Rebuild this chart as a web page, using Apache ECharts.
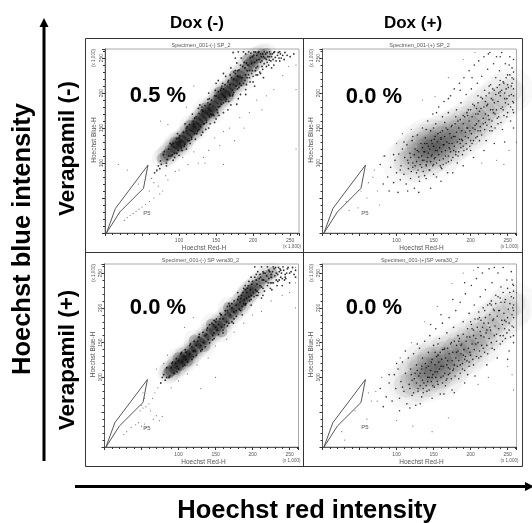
<!DOCTYPE html>
<html><head><meta charset="utf-8">
<script src="https://cdn.jsdelivr.net/npm/echarts@6/dist/echarts.min.js"></script>
<style>html,body{margin:0;padding:0;background:#fff}#c{width:532px;height:523px}</style></head>
<body><div id="c"></div>
<script>
const gate = [[2,0],[14,35],[58,97],[52,64],[20,30],[2,0]];
const columnTitles = ["Dox (-)", "Dox (+)"];
const rowTitles = ["Verapamil (-)", "Verapamil (+)"];
const panelTitles = ["Specimen_001-(-) SP_2", "Specimen_001-(+) SP_2", "Specimen_001-(-) SP vera30_2", "Specimen_001-(+)SP vera30_2"];
const percents = ["0.5 %", "0.0 %", "0.0 %", "0.0 %"];

const core1 = [[78,106],[82,110],[85,113],[88,118],[91,117],[93,123],[96,122],[98,128],[100,126],[102,132],[105,131],[107,137],[109,136],[111,142],[113,140],[116,147],[118,146],[120,152],[122,151],[124,158],[126,156],[128,163],[130,161],[132,168],[134,165],[136,172],[138,170],[140,176],[143,175],[145,182],[147,180],[150,188],[152,186],[154,193],[156,191],[158,198],[161,197],[163,203],[165,201],[168,208],[170,206],[172,213],[175,212],[177,218],[180,217],[183,224],[186,228],[190,234],[194,240],[198,245],[203,250],[95,129],[104,125],[115,153],[125,149],[135,178],[146,172],[155,201],[166,195],[176,225],[185,218],[193,248],[201,238],[207,252],[212,255],[218,256]];
const body1 = [[72,96],[75,103],[76,98],[80,116],[84,105],[86,120],[89,110],[92,128],[94,114],[97,135],[99,118],[101,139],[103,122],[106,144],[108,127],[110,150],[112,132],[114,155],[117,137],[119,160],[121,142],[123,166],[125,146],[127,171],[129,152],[131,176],[133,156],[135,182],[137,161],[139,186],[141,166],[144,190],[146,170],[148,196],[151,176],[153,202],[155,181],[157,207],[160,186],[162,212],[164,191],[167,218],[169,196],[171,222],[174,201],[176,228],[179,206],[181,233],[184,211],[186,238],[189,218],[191,243],[194,226],[196,250],[199,232],[201,254],[204,236],[207,258],[210,244],[213,256],[216,250],[219,258],[222,247],[226,256],[230,251],[234,258],[170,236],[178,243],[184,250],[190,256],[160,228],[150,214],[140,200],[128,183],[118,170],[108,156],[98,142],[88,128],[130,140],[140,150],[150,163],[160,172],[170,183],[180,192],[190,205],[200,216],[210,228],[218,238],[228,240],[238,250],[173,258],[180,259],[187,259],[194,259],[201,259],[208,259],[215,259],[222,259],[229,259],[236,259],[176,250],[192,232],[205,247],[212,238],[222,252],[160,206],[167,188],[174,230],[148,158],[136,148],[122,134],[110,120],[100,111],[92,104],[83,96],[115,128],[126,178],[139,191],[153,218],[163,224],[197,257],[203,259],[211,252],[219,244],[183,198],[195,222],[206,226]];
const fill1 = [[166,216],[169,226],[172,204],[174,220],[177,210],[179,232],[181,208],[183,240],[185,222],[187,214],[188,244],[190,226],[191,212],[193,240],[195,232],[196,216],[198,242],[199,252],[200,224],[202,244],[203,232],[205,254],[206,238],[208,248],[209,230],[210,256],[212,246],[213,234],[214,252],[215,242],[217,256],[218,248],[220,252],[221,240],[223,256],[224,246],[225,252],[227,248],[228,258],[231,246],[233,254],[235,250],[237,256],[240,254],[243,258],[246,254],[176,232],[168,198],[158,210],[152,172],[144,168],[134,156],[124,142],[114,132],[104,118],[94,108],[86,110],[90,126],[100,136],[110,146],[120,156],[132,174],[142,184],[150,196],[156,204],[162,194],[172,196],[182,214],[192,222],[198,228],[204,226],[157,184],[147,168],[137,158],[127,148],[117,134],[107,124],[97,114],[149,204],[159,214],[169,212],[179,224],[189,236],[141,192],[131,180],[121,164],[111,152],[101,130],[91,112],[143,170],[153,180],[163,188],[173,198],[83,100],[79,112],[74,92],[70,90],[67,86],[225,236],[236,246],[242,248],[250,252],[255,256],[214,222],[202,210],[190,198],[178,184],[166,176],[154,168],[142,156],[132,144]];
const stray1 = [[18,98],[30,90],[45,70],[60,60],[63,78],[66,72],[70,88],[72,67],[78,60],[82,82],[85,76],[95,88],[105,108],[112,98],[120,116],[126,100],[133,108],[140,118],[148,136],[155,125],[160,145],[168,150],[175,132],[182,165],[188,150],[195,172],[205,190],[212,176],[218,196],[228,205],[240,225],[248,238],[258,240],[258,205],[258,120],[160,98],[135,100],[90,200],[85,155],[75,160],[110,180],[120,210],[100,90],[30,22],[34,25],[38,28],[42,31],[46,34],[50,37],[26,18],[60,45],[66,50],[74,56],[55,41]];

const core2 = [[112,100],[120,106],[126,112],[132,104],[136,118],[140,112],[144,124],[148,118],[150,130],[154,124],[158,136],[162,128],[165,120],[168,140],[172,132],[176,144],[180,136],[185,148],[190,142],[195,156],[200,150],[206,165],[212,158],[218,172],[224,178],[234,186],[244,196],[254,204],[130,124],[142,132],[156,112]];
const body2 = [[88,80],[92,94],[96,72],[98,104],[100,86],[103,113],[105,76],[106,96],[108,120],[110,84],[111,108],[113,70],[114,126],[116,92],[118,114],[119,78],[121,132],[122,100],[124,64],[125,120],[127,86],[128,140],[130,108],[131,74],[133,128],[134,94],[135,150],[137,116],[138,82],[139,136],[141,102],[142,160],[143,124],[145,90],[146,146],[147,110],[149,170],[150,98],[151,134],[153,156],[154,80],[155,118],[157,180],[158,104],[159,144],[161,92],[162,166],[163,126],[164,188],[166,110],[167,150],[169,86],[170,172],[171,128],[173,196],[174,104],[175,154],[177,118],[178,206],[179,138],[181,176],[182,100],[183,160],[185,214],[186,128],[187,186],[189,112],[190,168],[191,222],[193,138],[194,198],[195,120],[197,176],[198,232],[199,146],[201,206],[202,128],[203,184],[205,240],[206,154],[207,136],[209,214],[210,170],[211,246],[213,146],[214,194],[215,224],[217,156],[218,252],[219,204],[221,132],[222,182],[223,234],[225,162],[226,258],[227,212],[229,146],[230,190],[231,242],[233,170],[234,222],[235,252],[237,156],[238,200],[239,232],[241,178],[242,258],[243,148],[245,214],[246,192],[247,242],[249,166],[250,226],[251,184],[253,252],[254,160],[255,210],[256,236],[257,176],[258,196],[258,220],[258,150],[258,248],[246,130],[232,128],[218,118],[204,108],[190,96],[176,86],[160,74],[146,64],[130,58],[115,60],[120,88],[135,104],[148,128],[160,136],[172,120],[184,116],[196,168],[208,178],[220,188],[232,204],[244,176],[256,222],[105,90],[115,104],[125,96],[140,98],[150,150],[165,158],[180,166],[195,150],[210,196],[225,210],[240,218],[128,118],[138,128],[152,108],[163,98],[174,136],[188,134],[200,118],[212,132],[228,152],[248,206],[252,240],[240,252],[224,256],[236,164],[202,222],[186,204],[170,192],[154,172],[140,148],[122,138],[110,130],[96,112],[82,70],[90,60],[102,58],[78,98],[84,110]];
const fill2 = [[116,100],[119,108],[122,94],[124,112],[127,102],[129,90],[130,116],[132,98],[134,110],[135,122],[136,88],[137,104],[138,116],[140,96],[141,128],[142,108],[143,114],[144,90],[145,120],[146,102],[147,132],[148,112],[149,96],[150,124],[151,106],[152,138],[153,118],[154,100],[155,130],[156,142],[157,112],[158,122],[159,96],[160,134],[161,116],[162,146],[163,106],[164,126],[165,138],[166,118],[167,100],[168,130],[169,148],[170,110],[171,122],[172,142],[173,116],[174,152],[175,128],[176,108],[177,138],[178,124],[179,156],[180,116],[181,144],[182,130],[183,110],[184,150],[185,134],[186,162],[187,122],[188,146],[189,132],[190,156],[191,118],[192,166],[193,144],[194,128],[195,172],[196,150],[197,136],[198,160],[199,124],[200,176],[201,142],[202,166],[203,150],[204,132],[205,182],[206,148],[207,170],[208,156],[209,138],[210,186],[211,160],[212,174],[213,152],[214,178],[215,140],[216,192],[217,164],[218,180],[219,148],[220,170],[221,196],[222,154],[223,184],[224,168],[225,200],[226,146],[227,176],[228,192],[229,160],[230,206],[231,172],[232,186],[233,150],[234,198],[235,176],[236,208],[237,188],[238,166],[239,212],[240,196],[241,158],[242,204],[243,180],[244,216],[245,168],[246,200],[247,186],[248,222],[249,192],[250,172],[251,208],[252,196],[253,226],[254,180],[255,198],[256,214],[257,188],[258,206],[258,230],[258,172],[258,186],[250,212],[240,202],[230,176],[220,158],[210,146],[200,132],[190,124],[180,112],[170,102],[160,94],[150,84],[140,78],[130,80]];
const stray2 = [[32,45],[36,32],[52,60],[60,50],[68,80],[74,60],[77,40],[82,110],[70,90],[48,36],[62,72],[152,195],[135,190],[252,118],[245,98],[262,130],[235,104],[120,148],[108,142],[100,128],[170,222],[190,248],[206,258],[215,100]];

const core3 = [[86,106],[88,108],[90,110],[93,115],[96,112],[98,116],[99,120],[102,118],[104,126],[107,124],[108,128],[110,132],[113,130],[116,138],[118,134],[119,136],[122,144],[125,142],[128,150],[131,148],[134,157],[137,155],[140,163],[143,161],[146,169],[149,167],[152,175],[155,173],[158,181],[161,179],[164,187],[167,185],[170,194],[173,192],[176,200],[179,198],[182,206],[184,204],[186,210],[188,212],[190,216],[192,218],[194,222],[197,224],[199,226],[202,229],[204,232],[209,236],[214,242],[220,246],[226,250],[100,128],[112,124],[122,153],[135,145],[145,176],[158,166],[168,200]];
const body3 = [[76,92],[78,100],[80,104],[82,96],[84,114],[88,102],[91,120],[94,106],[97,127],[100,112],[103,134],[106,116],[109,140],[112,122],[115,146],[118,126],[121,152],[124,132],[127,158],[130,138],[133,165],[136,144],[139,171],[142,150],[145,178],[148,156],[151,184],[154,162],[157,190],[160,168],[163,196],[166,174],[169,203],[172,180],[175,210],[178,188],[181,216],[184,196],[187,222],[190,204],[193,228],[196,210],[199,234],[202,216],[205,240],[208,222],[211,244],[214,228],[217,250],[220,232],[223,252],[226,236],[229,256],[232,240],[235,258],[238,244],[241,259],[244,248],[247,256],[250,250],[254,258],[258,254],[203,259],[212,259],[220,259],[228,259],[236,252],[243,240],[250,236],[258,244],[190,226],[180,212],[168,206],[156,192],[142,176],[128,162],[116,148],[104,136],[92,122],[120,130],[132,140],[146,154],[160,164],[174,178],[186,190],[198,204],[212,214],[226,226],[240,232],[195,238],[205,248],[215,240],[225,248],[232,250],[210,232],[185,218],[172,200],[150,172],[136,160],[124,146],[110,126],[98,116],[87,100],[150,180],[163,190],[178,204],[192,214],[206,224],[222,242],[238,254]];
const fill3 = [[182,198],[184,214],[186,202],[188,228],[189,212],[191,206],[192,222],[194,232],[195,216],[197,226],[198,212],[200,238],[201,222],[203,244],[204,226],[206,234],[207,218],[209,242],[210,248],[212,230],[213,240],[215,250],[216,224],[218,238],[219,246],[221,236],[222,254],[224,228],[225,244],[227,252],[228,236],[230,246],[231,258],[233,232],[234,248],[236,240],[237,256],[239,250],[240,242],[242,254],[245,242],[246,250],[248,258],[252,252],[256,248],[172,206],[166,196],[160,184],[154,176],[148,164],[140,154],[130,146],[120,138],[108,130],[96,120],[105,122],[115,134],[126,152],[138,162],[147,176],[156,184],[165,180],[175,194],[183,208],[175,184],[168,178],[158,172],[146,160],[134,150],[122,138],[110,136],[100,124],[90,114],[84,100],[152,168],[162,176],[170,190],[178,196],[188,206],[198,218],[205,218],[214,218],[224,236],[234,238],[244,244],[128,158],[138,168],[148,182],[158,190],[118,144],[108,118],[98,108],[214,252],[207,252],[198,244],[190,232],[180,222],[166,202]];
const stray3 = [[72,85],[68,78],[65,70],[60,62],[56,58],[52,56],[48,52],[52,78],[54,70],[50,60],[42,32],[46,35],[50,30],[54,33],[56,28],[36,28],[30,22],[26,18],[66,40],[70,45],[74,38],[78,44],[62,52],[90,85],[100,95],[112,105],[125,118],[140,128],[150,145],[165,155],[175,165],[188,178],[200,190],[212,195],[225,210],[240,218],[258,236],[258,258],[258,200],[250,222],[130,84],[150,100],[120,186],[108,172],[85,132],[70,112],[80,120]];

const core4 = [[112,88],[120,92],[128,98],[134,104],[138,96],[142,112],[146,104],[150,120],[154,112],[158,128],[162,118],[166,108],[170,130],[174,122],[178,140],[182,132],[186,126],[190,146],[195,138],[200,152],[206,146],[212,162],[218,154],[224,172],[232,178],[240,186],[250,196],[258,206],[132,116],[144,126],[158,100]];
const body4 = [[86,72],[90,92],[94,66],[97,104],[99,84],[102,112],[104,70],[106,94],[108,122],[110,80],[112,106],[114,62],[116,128],[117,90],[119,112],[121,74],[123,134],[124,98],[126,60],[127,118],[129,84],[131,142],[132,106],[134,72],[135,128],[137,92],[138,152],[140,114],[141,80],[143,136],[144,100],[145,160],[147,122],[149,88],[150,146],[152,108],[153,170],[155,94],[156,132],[158,156],[159,76],[160,116],[162,178],[163,102],[165,142],[166,88],[168,164],[169,124],[171,186],[172,106],[174,150],[175,82],[177,172],[178,118],[180,196],[181,136],[183,160],[184,98],[186,208],[187,146],[189,112],[190,180],[192,126],[193,220],[195,158],[196,104],[198,192],[199,136],[201,232],[202,170],[204,118],[205,204],[207,148],[208,242],[210,184],[211,128],[213,216],[214,160],[216,250],[217,142],[219,196],[220,226],[222,168],[223,134],[225,256],[226,206],[228,150],[229,236],[231,184],[232,140],[234,218],[235,162],[237,250],[238,196],[240,148],[241,230],[243,176],[244,258],[246,208],[247,156],[249,240],[250,186],[252,168],[253,222],[255,252],[256,174],[257,200],[258,150],[258,232],[258,186],[258,214],[258,160],[120,104],[134,116],[148,100],[162,140],[176,110],[190,132],[204,160],[218,178],[232,196],[246,182],[256,240],[108,86],[128,110],[142,94],[156,148],[170,114],[184,152],[198,122],[212,186],[226,172],[240,214],[252,138],[164,76],[148,70],[132,62],[118,56],[104,52],[78,84],[82,58],[90,104],[100,120],[112,138],[128,148],[146,176],[160,190],[176,212],[192,236],[210,258],[232,258],[222,118],[236,128],[250,126],[206,102],[192,92],[178,78],[136,84],[152,136],[168,98],[186,118],[200,180],[214,130],[228,204],[244,160]];
const fill4 = [[118,84],[121,96],[123,78],[125,106],[127,92],[129,80],[130,102],[132,88],[134,112],[135,96],[136,78],[138,106],[139,120],[140,88],[142,100],[143,116],[144,82],[146,110],[147,94],[148,126],[149,104],[151,86],[152,118],[153,100],[154,130],[155,108],[156,90],[157,122],[158,112],[159,136],[160,100],[161,126],[162,92],[163,116],[164,140],[165,106],[166,128],[167,96],[168,118],[169,142],[170,104],[171,134],[172,112],[173,148],[174,98],[175,124],[176,136],[177,112],[178,152],[179,102],[180,128],[181,146],[182,116],[183,138],[184,124],[185,156],[186,106],[187,134],[188,148],[189,120],[190,162],[191,140],[192,110],[193,130],[194,152],[195,124],[196,170],[197,142],[198,116],[199,158],[200,132],[201,176],[202,148],[203,126],[204,168],[205,140],[206,184],[207,156],[208,130],[209,172],[210,150],[211,194],[212,138],[213,166],[214,182],[215,146],[216,172],[217,200],[218,158],[219,136],[220,186],[221,164],[222,146],[223,204],[224,178],[225,156],[226,190],[227,168],[228,210],[229,142],[230,182],[231,198],[232,160],[233,174],[234,206],[235,152],[236,188],[237,216],[238,170],[239,196],[240,160],[241,208],[242,182],[243,152],[244,222],[245,192],[246,170],[247,212],[248,180],[249,164],[250,228],[251,198],[252,178],[253,206],[254,158],[255,216],[256,190],[257,234],[258,204],[258,172],[258,196],[258,224]];
const stray4 = [[62,78],[66,66],[80,100],[72,80],[74,66],[60,40],[30,10],[44,52],[26,22],[100,38],[122,30],[148,22],[170,42],[258,82],[256,104],[250,116],[262,222],[175,235],[155,202],[138,180],[120,150],[105,128],[190,250],[204,254],[210,90],[224,100]];

const groups = [[core1,body1,fill1,stray1],[core2,body2,fill2,stray2],[core3,body3,fill3,stray3],[core4,body4,fill4,stray4]];
const plots = [
  {left:105, top:49,  width:194, height:184},
  {left:322.5, top:49,  width:194, height:184},
  {left:104.5, top:264, width:194, height:183},
  {left:322.5, top:264, width:194, height:183}
];
const chart = echarts.init(document.getElementById('c'));
const font = 'Liberation Sans, Arial, sans-serif';
const small = {fontFamily:font, fontSize:6, fill:'#555'};
const big = (t,x,y,size,rot)=>({type:'text', x, y, rotation:rot||0, silent:true, z:10,
  style:{text:t, fontFamily:font, fontWeight:'bold', fontSize:size, fill:'#000', align:'center', verticalAlign:'middle'}});
const graphic = [
  {type:'rect', shape:{x:85.5,y:38.5,width:437,height:428}, style:{fill:'none',stroke:'#333',lineWidth:1}},
  {type:'line', shape:{x1:303.5,y1:38,x2:303.5,y2:467}, style:{stroke:'#333',lineWidth:1}},
  {type:'line', shape:{x1:86,y1:252.5,x2:523,y2:252.5}, style:{stroke:'#333',lineWidth:1}},
  {type:'line', shape:{x1:44,y1:461,x2:44,y2:26}, style:{stroke:'#000',lineWidth:3}},
  {type:'polygon', shape:{points:[[44,18],[39.5,27],[48.5,27]]}, style:{fill:'#000'}},
  {type:'line', shape:{x1:75,y1:486.5,x2:526,y2:486.5}, style:{stroke:'#000',lineWidth:3}},
  {type:'polygon', shape:{points:[[534,486.5],[525,482],[525,491]]}, style:{fill:'#000'}},
  big(columnTitles[0],197,23,17), big(columnTitles[1],413,23,17),
  big(rowTitles[0],68,148.5,22.5,Math.PI/2), big(rowTitles[1],68,360,22.5,Math.PI/2),
  big("Hoechst blue intensity",23,239,25.5,Math.PI/2),
  big("Hoechst red intensity",307,511,25.5)
];
const percentPos = [[158,96],[374,97],[158,308],[374,308]];
const p5Pos = [[147,213],[365,213],[147,428],[365,427]];
const grid=[],xAxis=[],yAxis=[],series=[];
plots.forEach((p,i)=>{
  grid.push({left:p.left, top:p.top, width:p.width, height:p.height, show:true, borderColor:'#aaa', borderWidth:1, backgroundColor:'#fff'});
  const common = {type:'value', gridIndex:i, min:0, interval:50, splitLine:{show:false},
    axisLine:{onZero:false,lineStyle:{color:'#555',width:1}},
    axisTick:{length:3,lineStyle:{color:'#333'}},
    minorTick:{show:true,splitNumber:5,length:2,lineStyle:{color:'#333'}},
    minorSplitLine:{show:false}};
  xAxis.push(Object.assign({},common,{max:262, axisLabel:{fontSize:5,color:'#555',fontFamily:font,margin:5,showMinLabel:false,customValues:[50,100,150,200,250]}}));
  yAxis.push(Object.assign({},common,{max:263, axisLabel:{fontSize:5,color:'#555',fontFamily:font,margin:1,rotate:90,showMinLabel:false,customValues:[50,100,150,200,250]}}));
  const [core,body,fill,stray]=groups[i];
  const sc=(d,size,op)=>({type:'scatter',xAxisIndex:i,yAxisIndex:i,data:d,symbolSize:size,itemStyle:{color:'#000',opacity:op},silent:true,animation:false});
  const dense = i%2===0;
  series.push(sc(core,dense?22:46,dense?0.035:0.022), sc(core,dense?12:24,dense?0.2:0.05), sc(body,dense?1.8:1.6,0.8), sc(fill,dense?1.8:1.6,0.8), sc(stray,1.2,0.55));
  series.push({type:'line',xAxisIndex:i,yAxisIndex:i,data:gate,symbol:'none',silent:true,animation:false,lineStyle:{color:'#444',width:0.9},z:5});
  const t=(text,x,y,size,rot)=>graphic.push({type:'text',x,y,rotation:rot||0,silent:true,style:Object.assign({},small,{text,align:'center',verticalAlign:'middle',fontSize:size})});
  t(panelTitles[i],p.left+p.width/2+(i%2?0:-1),p.top-3.5,5.5);
  t('Hoechst Red-H',p.left+p.width/2+2,p.top+p.height+15,6.5);
  t('Hoechst Blue-H',p.left-11,p.top+p.height/2-1,6.5,Math.PI/2);
  t('(x 1,000)',p.left+p.width-7,p.top+p.height+14,4.5);
  t('(x 1,000)',p.left-11,p.top+9,4.5,Math.PI/2);
  t('P5',p5Pos[i][0],p5Pos[i][1],6);
  graphic.push(big(percents[i],percentPos[i][0],percentPos[i][1],22));
});
chart.setOption({animation:false,backgroundColor:'#fff',grid,xAxis,yAxis,series,graphic:{elements:graphic}});
</script></body></html>
